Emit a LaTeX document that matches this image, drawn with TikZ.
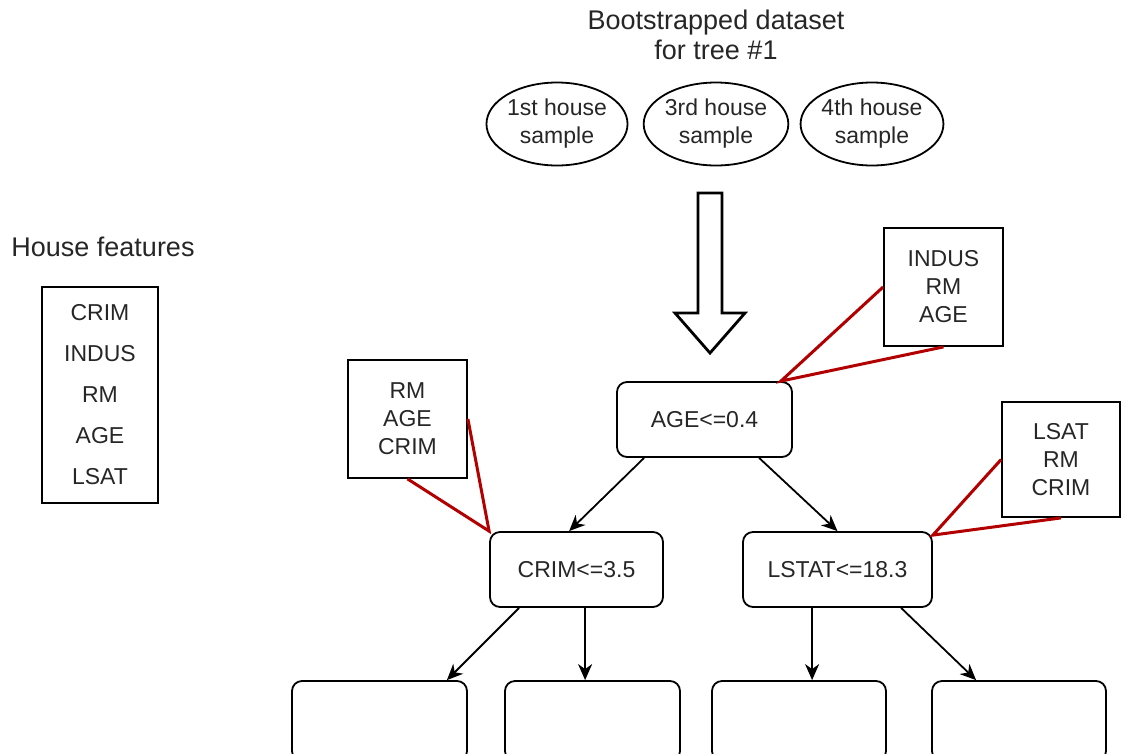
\documentclass[tikz,border=0pt]{standalone}
\usepackage{fontspec}
\setmainfont{Liberation Sans}
\usetikzlibrary{shapes.geometric,arrows.meta,calc}
\definecolor{txt}{HTML}{262626}
\definecolor{redline}{HTML}{B20000}
\tikzset{
  every node/.style={text=txt},
  normtext/.style={font=\fontsize{23}{28}\selectfont},
  titletext/.style={font=\fontsize{27}{30}\selectfont, align=center, inner sep=0},
  oval/.style={draw, ellipse, line width=1.8pt, minimum width=139pt, minimum height=83pt, inner sep=0, normtext, align=center},
  rbox/.style={draw, rounded corners=10pt, line width=1.8pt, inner sep=0, normtext},
  sbox/.style={draw, line width=1.8pt, inner sep=0, normtext, align=center},
  conn/.style={line width=1.8pt, -{Stealth[length=16pt,width=14pt,inset=5pt]}},
  redconn/.style={draw=redline, line width=3pt},
}
\begin{document}
\begin{tikzpicture}[x=1pt,y=-1pt]
\useasboundingbox (0,0) rectangle (1121,753);

% title
\node[titletext] (title) at (716,35) {Bootstrapped dataset\\for tree \#1};

% samples
\node[oval] (s1) at (557,124) {1st house\\sample};
\node[oval] (s2) at (716,124) {3rd house\\sample};
\node[oval] (s3) at (872,124) {4th house\\sample};

% big hollow arrow
\draw[line width=2.8pt, line join=miter] (698,193) -- (722,193) -- (722,313) -- (745,313) -- (710,353) -- (675,313) -- (698,313) -- cycle;

% house features
\node[titletext] (hft) at (103,247) {House features};
\node[sbox, minimum width=116pt, minimum height=216pt, font=\fontsize{23}{41}\selectfont] (hf) at (100,395) {CRIM\\INDUS\\RM\\AGE\\LSAT};

% tree nodes
\node[rbox, minimum width=175pt, minimum height=75pt] (age) at (704.5,419.5) {AGE<=0.4};
\node[rbox, minimum width=173pt, minimum height=75pt] (crim) at (576.5,569.5) {CRIM<=3.5};
\node[rbox, minimum width=189pt, minimum height=75pt] (lstat) at (837.5,569.5) {LSTAT<=18.3};

\node[rbox, minimum width=175pt, minimum height=80pt] (b1) at (379.5,721) {};
\node[rbox, minimum width=175pt, minimum height=80pt] (b2) at (592.5,721) {};
\node[rbox, minimum width=174pt, minimum height=80pt] (b3) at (799,721) {};
\node[rbox, minimum width=174pt, minimum height=80pt] (b4) at (1019,721) {};

% feature subsets
\node[sbox, minimum width=119pt, minimum height=118pt] (indus) at (943.5,287) {INDUS\\RM\\AGE};
\node[sbox, minimum width=119pt, minimum height=118pt] (rm) at (407.5,419) {RM\\AGE\\CRIM};
\node[sbox, minimum width=118pt, minimum height=115pt] (lsat) at (1061,459.5) {LSAT\\RM\\CRIM};

% red connectors
\coordinate (ageNE) at ($(age.north east)+(-12,0)$);
\draw[redconn] (indus.west) -- (ageNE) -- (indus.south);
\draw[redconn] (rm.east) -- (crim.north west) -- (rm.south);
\coordinate (lstatNE) at ($(lstat.north east)+(0,4)$);
\draw[redconn] (lsat.west) -- (lstatNE) -- (lsat.south);

% tree arrows
\draw[conn] ($(age.south west)+(28,0)$) -- ($(crim.north west)+(80,0)$);
\draw[conn] ($(age.south west)+(143,0)$) -- (lstat.north);
\draw[conn] ($(crim.south west)+(30,0)$) -- ($(b1.north east)+(-21,0)$);
\draw[conn] ($(crim.south west)+(96,0)$) -- ($(b2.north west)+(81,0)$);
\draw[conn] ($(lstat.south west)+(70,0)$) -- ($(b3.north west)+(101,0)$);
\draw[conn] ($(lstat.south west)+(159,0)$) -- ($(b4.north west)+(45,0)$);
\end{tikzpicture}
\end{document}
